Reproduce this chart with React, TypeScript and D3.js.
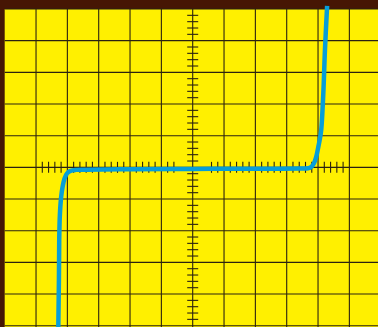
import React, { useEffect, useRef } from "react";
import * as d3 from "d3";

// trace, in divisions (x: -6..6, y: -5..5)
const traceX = [
  -4.29, -4.27, -4.26, -4.24, -4.2, -4.15, -4.09, -4.01, -3.9, -3.72, -3.4, -2.0, 0.0, 2.0,
  3.42, 3.68, 3.79, 3.87, 3.94, 4.0, 4.05, 4.1, 4.17, 4.22, 4.29,
];
const traceY = [
  -5.1, -3.57, -2.3, -1.52, -0.95, -0.6, -0.35, -0.19, -0.11, -0.08, -0.075, -0.06, -0.05,
  -0.045, -0.04, -0.03, 0.02, 0.13, 0.32, 0.6, 0.85, 1.17, 2.37, 3.69, 5.1,
];
const gridX = [-5, -4, -3, -2, -1, 0, 1, 2, 3, 4, 5, 6];
const gridY = [-5, -4, -3, -2, -1, 0, 1, 2, 3, 4, 5];

const App = () => {
  const ref = useRef<SVGSVGElement>(null);

  useEffect(() => {
    const width = 378;
    const height = 327;
    const svg = d3.select(ref.current);
    svg.selectAll("*").remove();

    const x = d3.scaleLinear().domain([-6, 6]).range([4.7, 380.7]);
    const y = d3.scaleLinear().domain([-5, 5]).range([325.7, 9]);

    // frame
    svg.append("rect").attr("width", width).attr("height", height).attr("fill", "#461604");
    svg
      .append("rect")
      .attr("x", x(-6))
      .attr("y", y(5))
      .attr("width", width - x(-6))
      .attr("height", height - y(5))
      .attr("fill", "#fff000");

    const g = svg.append("g").attr("stroke", "#2b2210").attr("stroke-width", 1.1);

    // grid
    g.selectAll(".vx")
      .data(gridX)
      .join("line")
      .attr("x1", (d) => x(d))
      .attr("x2", (d) => x(d))
      .attr("y1", y(5))
      .attr("y2", height);
    g.selectAll(".hy")
      .data(gridY)
      .join("line")
      .attr("x1", x(-6))
      .attr("x2", width)
      .attr("y1", (d) => y(d))
      .attr("y2", (d) => y(d));

    // minor ticks on the centre axes
    const ticksY = d3.range(-25, 26).filter((i) => i % 5 !== 0).map((i) => i / 5);
    const ticksX = d3
      .range(-25, 26)
      .filter((i) => i % 5 !== 0 && Math.abs(i) > 2)
      .map((i) => i / 5);
    g.append("g")
      .selectAll("line")
      .data(ticksY)
      .join("line")
      .attr("x1", x(0) - 5.5)
      .attr("x2", x(0) + 5.5)
      .attr("y1", (d) => y(d))
      .attr("y2", (d) => y(d));
    g.append("g")
      .selectAll("line")
      .data(ticksX)
      .join("line")
      .attr("x1", (d) => x(d))
      .attr("x2", (d) => x(d))
      .attr("y1", y(0) - 5.5)
      .attr("y2", y(0) + 5.5);

    // trace
    const pts = traceX.map((v, i) => [v, traceY[i]] as [number, number]);
    const line = d3
      .line<[number, number]>()
      .x((d) => x(d[0]))
      .y((d) => y(d[1]))
      .curve(d3.curveCatmullRom.alpha(0.5));
    svg
      .append("path")
      .datum(pts)
      .attr("d", line)
      .attr("fill", "none")
      .attr("stroke", "#069ed9")
      .attr("stroke-width", 4.5)
      .attr("stroke-linejoin", "round");
  }, []);

  return (
    <svg
      ref={ref}
      width={378}
      height={327}
      style={{ position: "absolute", left: 0, top: 0 }}
    />
  );
};

export default App;
